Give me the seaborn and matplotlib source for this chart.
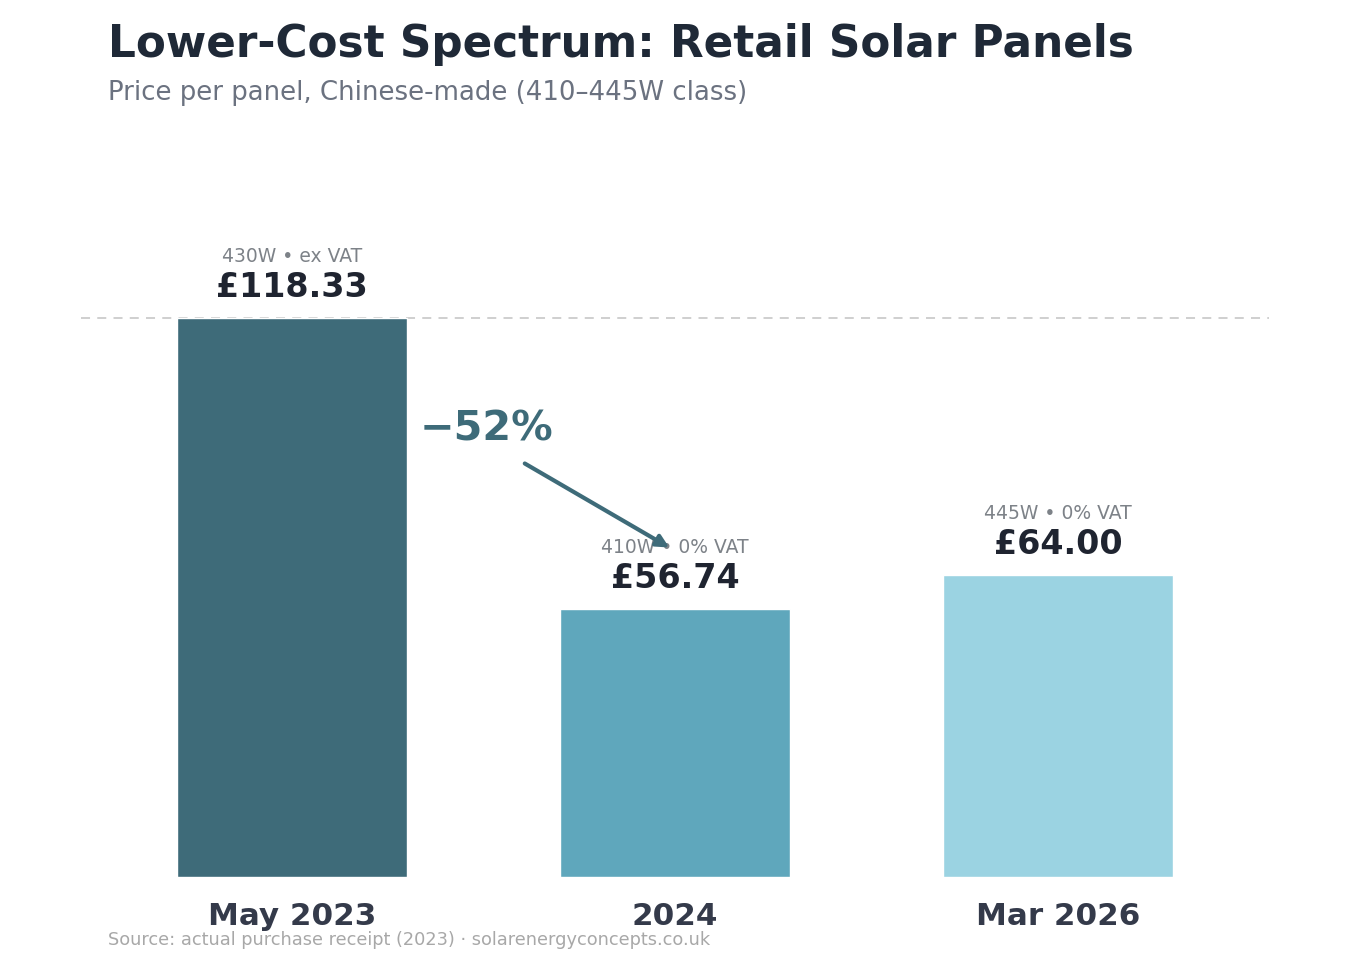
import matplotlib
matplotlib.use("Agg")
import matplotlib.pyplot as plt
import seaborn as sns
import pandas as pd

categories = ["May 2023", "2024", "Mar 2026"]
prices = [118.33, 56.74, 64.00]
value_labels = ["£118.33", "£56.74", "£64.00"]
detail_labels = ["430W • ex VAT", "410W • 0% VAT", "445W • 0% VAT"]
bar_colors = ["#3E6B79", "#5FA7BC", "#9BD3E2"]
change_label = "−52%"

sns.set_theme(style="white")
plt.rcParams['font.family'] = ['DejaVu Sans']

df = pd.DataFrame({"period": categories, "price": prices})

fig = plt.figure(figsize=(13.5, 9.75), dpi=100)
ax = fig.add_axes([0.06, 0.1005, 0.88, 0.7456])

sns.barplot(data=df, x="period", y="price", hue="period", palette=bar_colors,
            width=0.6, legend=False, ax=ax, saturation=1)

ax.set_xlim(-0.55, 2.55)
ax.set_ylim(0, 154)
for s in ax.spines.values():
    s.set_visible(False)
ax.set_yticks([])
ax.set_xlabel("")
ax.set_ylabel("")
ax.tick_params(axis="x", length=0, pad=18, labelsize=22.3, labelcolor="#343a4a")
for lbl in ax.get_xticklabels():
    lbl.set_fontweight("bold")

ax.axhline(prices[0], color="#cccccc", lw=1.3, ls=(0, (5, 4)), zorder=0)

for i, (p, v, d) in enumerate(zip(prices, value_labels, detail_labels)):
    ax.annotate(v, (i, p), xytext=(0, 22), textcoords="offset points",
                ha="center", va="center", fontsize=24, fontweight="bold", color="#1f2430")
    ax.annotate(d, (i, p), xytext=(0, 44.5), textcoords="offset points",
                ha="center", va="center", fontsize=13.5, color="#7d8288")

ax.text(0.334, 94.8, change_label, ha="left", va="center", fontsize=29.8,
        fontweight="bold", color="#3E6B79")
ax.annotate("", xy=(0.985, 69.8), xytext=(0.608, 87.6),
            arrowprops=dict(arrowstyle="-|>,head_length=0.6,head_width=0.3",
                            color="#3E6B79", lw=3, shrinkA=0, shrinkB=0))

fig.text(108 / 1350, 1 - 45 / 975, "Lower-Cost Spectrum: Retail Solar Panels",
         ha="left", va="center", fontsize=31.5, fontweight="bold", color="#1f2937")
fig.text(108 / 1350, 1 - 93 / 975, "Price per panel, Chinese-made (410–445W class)",
         ha="left", va="center", fontsize=18.7, color="#6b7280")
fig.text(108 / 1350, 1 - 940 / 975,
         "Source: actual purchase receipt (2023) · solarenergyconcepts.co.uk",
         ha="left", va="center", fontsize=12.8, color="#a8a8a8")

fig.savefig("out.png", dpi=100, facecolor="white")
